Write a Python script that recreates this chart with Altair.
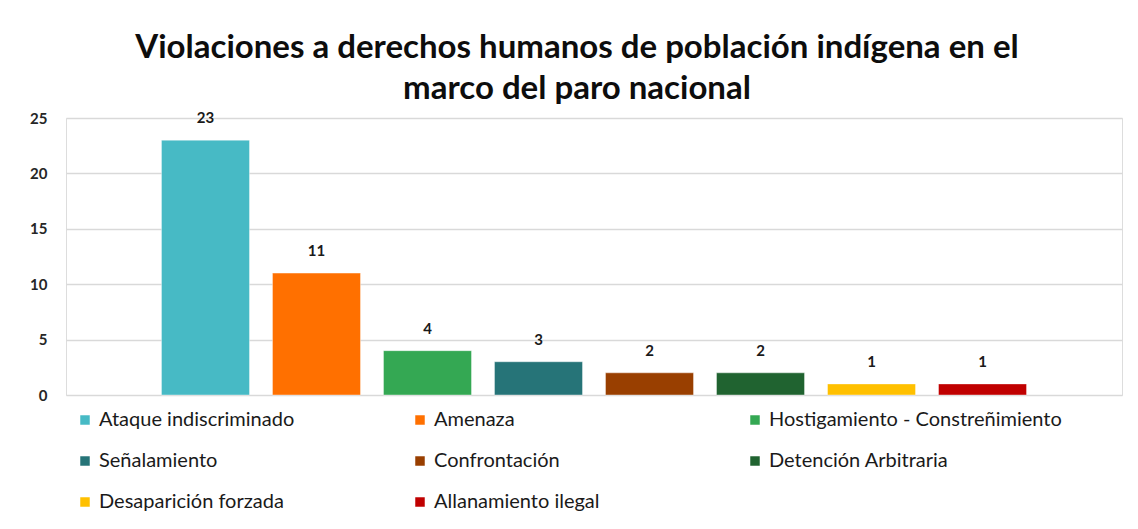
import altair as alt
import pandas as pd

categories = [
    "Ataque indiscriminado",
    "Amenaza",
    "Hostigamiento - Constreñimiento",
    "Señalamiento",
    "Confrontación",
    "Detención Arbitraria",
    "Desaparición forzada",
    "Allanamiento ilegal",
]
values = [23, 11, 4, 3, 2, 2, 1, 1]
colors = ["#47BAC5", "#FF7000", "#34A853", "#267478", "#993F00", "#206330", "#FFC000", "#C00000"]

df = pd.DataFrame({"categoria": categories, "valor": values})

FONT = "Lato"

x = alt.X(
    "categoria:N",
    sort=categories,
    axis=None,
    scale=alt.Scale(paddingInner=0.207, paddingOuter=0.86),
)
y = alt.Y(
    "valor:Q",
    scale=alt.Scale(domain=[0, 25]),
    axis=alt.Axis(
        values=[0, 5, 10, 15, 20, 25],
        title=None,
        domain=False,
        ticks=False,
        labelPadding=19,
        labelFontSize=15,
        labelFontWeight="bold",
        labelColor="#262626",
        labelFont=FONT,
        gridColor="#D9D9D9",
        gridWidth=1.5,
        minExtent=58,
    ),
)

color = alt.Color(
    "categoria:N",
    sort=categories,
    scale=alt.Scale(domain=categories, range=colors),
    legend=alt.Legend(
        title=None,
        orient="none",
        legendX=9,
        legendY=292,
        direction="horizontal",
        columns=3,
        gridAlign="all",
        columnPadding=18,
        rowPadding=21,
        symbolType="square",
        symbolSize=90,
        symbolStrokeWidth=0,
        labelFontSize=20,
        labelFont=FONT,
        labelColor="#1a1a1a",
        labelLimit=400,
        symbolOffset=0,
    ),
)

bars = alt.Chart(df).mark_bar(stroke="#ffffff", strokeOpacity=0.4, strokeWidth=1).encode(
    x=x, y=y, color=color
)

labels = alt.Chart(df).mark_text(
    dy=-22, fontSize=15, fontWeight="bold", font=FONT, color="#1a1a1a"
).encode(x=x, y=y, text="valor:Q")

chart = (
    alt.layer(bars, labels)
    .properties(
        width=1056,
        height=277,
        padding={"left": 0, "top": 24, "right": 8, "bottom": 0},
        title=alt.TitleParams(
            text=["Violaciones a derechos humanos de población indígena en el", "marco del paro nacional"],
            font=FONT,
            fontSize=33,
            fontWeight="bold",
            color="#0d0d0d",
            lineHeight=41,
            anchor="middle",
            frame="bounds",
            dx=12,
            offset=5,
        ),
    )
    .configure_view(stroke=None)
    .configure(background="white")
)

chart.save("out.html", embed_options={"renderer": "svg", "actions": False})
